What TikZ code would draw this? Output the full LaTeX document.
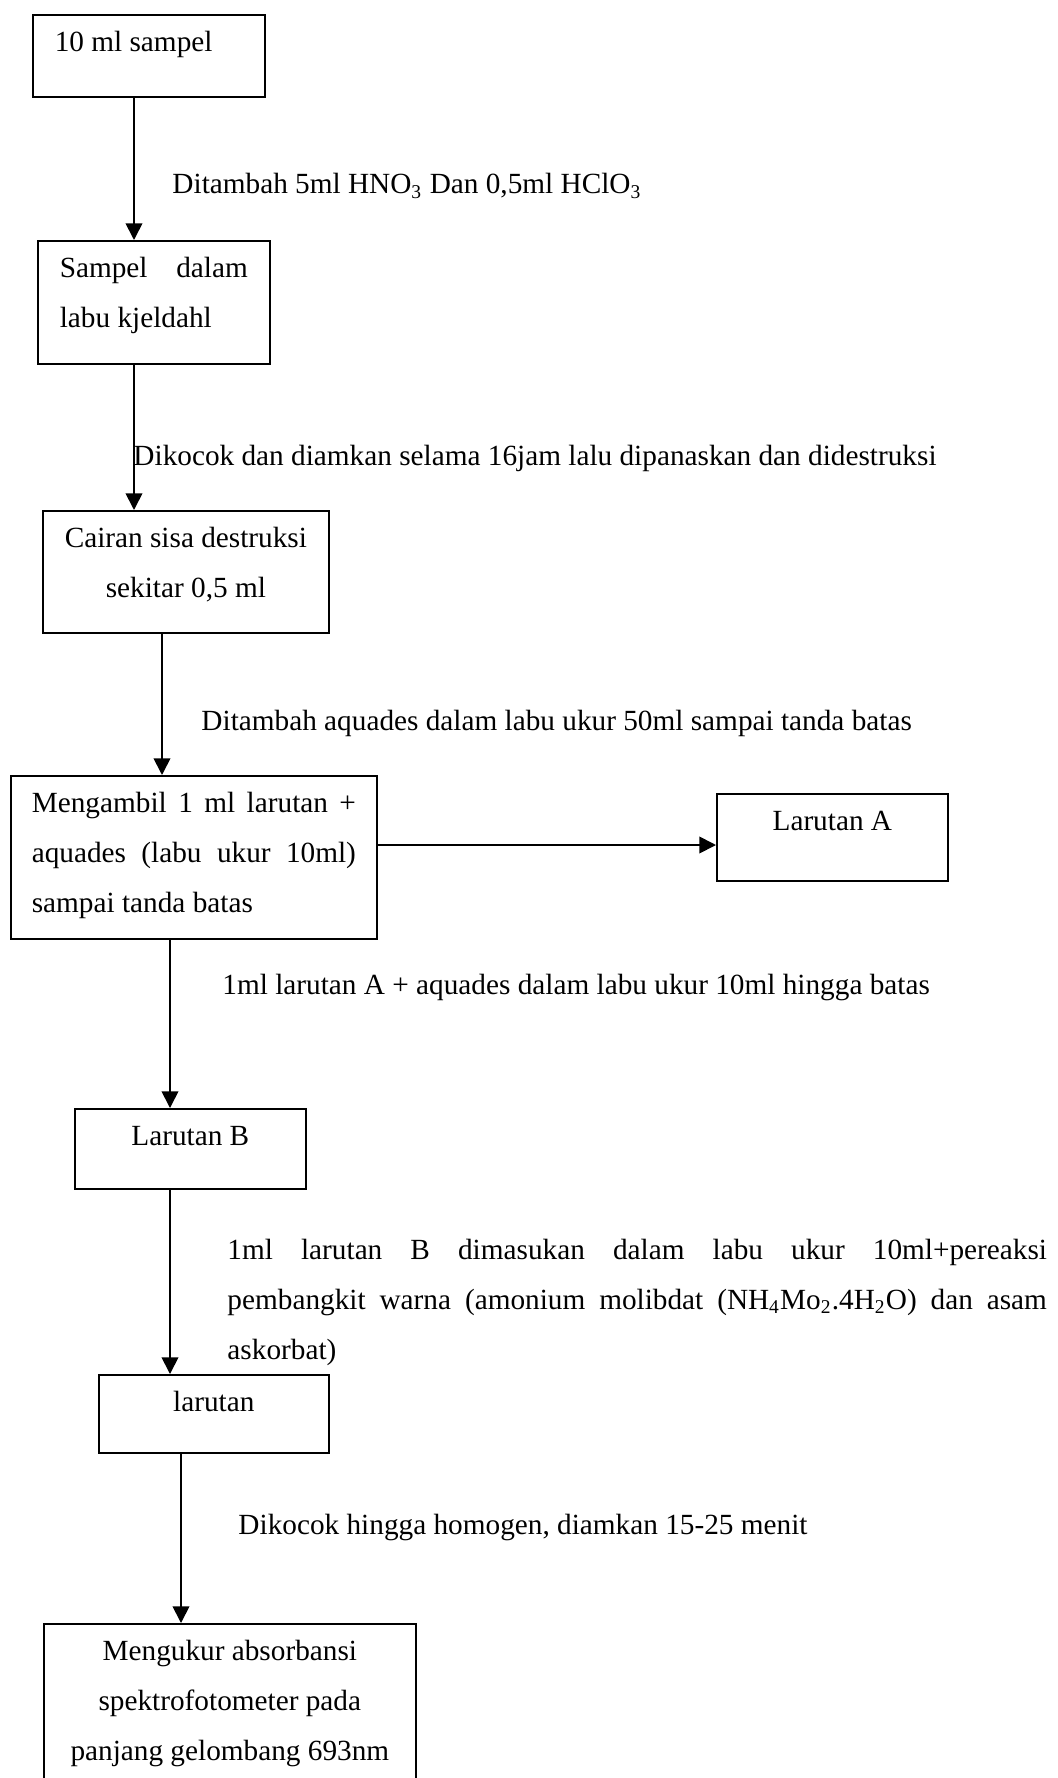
\documentclass[tikz,border=0pt]{standalone}
\usepackage{fontspec}
\setmainfont{Liberation Serif}
\usetikzlibrary{arrows.meta}

\begin{document}
\begin{tikzpicture}[x=0.41pt, y=-0.41pt,
    every node/.style={font=\fontsize{12}{20.5}\selectfont},
    box/.style={draw, line width=0.7pt, anchor=north west, inner xsep=9pt, inner ysep=0pt, text height=15.2pt},
    note/.style={anchor=base west, inner sep=0pt},
    panah/.style={->, line width=0.7pt},
    >={Triangle[width=6.8pt,length=6.8pt]}]
  \useasboundingbox (0,0) rectangle (1058,1778);
  \clip (0,0) rectangle (1058,1778);

  % kotak-kotak
  \node[box, text width=77.1pt, align=flush left, text depth=18.4pt] (sampel) at (32,14) {10 ml sampel};
  \node[box, text width=77.1pt, align=justify, text depth=35.2pt] (labu) at (37,240) {Sampel dalam\linebreak labu kjeldahl};
  \node[box, inner xsep=5pt, text width=107.3pt, align=flush center, text depth=34.8pt] (sisa) at (42,510) {Cairan sisa destruksi\\ sekitar 0,5 ml};
  \node[box, inner xsep=8.6pt, text width=132.9pt, align=justify, text depth=51.6pt] (ambil) at (10,775) {Mengambil 1 ml larutan +\linebreak aquades (labu ukur 10ml)\linebreak sampai tanda batas};
  \node[box, text width=76.7pt, align=flush center, text depth=20.5pt] (larA) at (716,793) {Larutan A};
  \node[box, text width=76.7pt, align=flush center, text depth=17.6pt] (larB) at (74,1108) {Larutan B};
  \node[box, text width=76.3pt, align=flush center, text depth=16.8pt] (lar) at (98,1374) {larutan};
  \node[box, text width=134.5pt, align=flush center, text depth=60pt] (ukur) at (43,1623) {Mengukur absorbansi\\ spektrofotometer pada\\ panjang gelombang 693nm};

  % keterangan
  \node[note] (tambah) at (172,194) {Ditambah 5ml HNO\textsubscript{3} Dan 0,5ml HClO\textsubscript{3}};
  \node[note] (kocok) at (133,466) {Dikocok dan diamkan selama 16jam lalu dipanaskan dan didestruksi};
  \node[note] (aquades) at (201,730) {Ditambah aquades dalam labu ukur 50ml sampai tanda batas};
  \node[note] (encer) at (222,994) {1ml larutan A + aquades dalam labu ukur 10ml hingga batas};
  \node[note, text width=336pt, align=justify] (pereaksi) at (227,1259) {1ml larutan B dimasukan dalam labu ukur 10ml+pereaksi\linebreak pembangkit warna (amonium molibdat (NH\textsubscript{4}Mo\textsubscript{2}.4H\textsubscript{2}O) dan asam\linebreak askorbat)};
  \node[note] (homogen) at (238,1534) {Dikocok hingga homogen, diamkan 15-25 menit};

  % panah
  \draw[panah] (sampel.south -| 134,0) -- (labu.north -| 134,0);
  \draw[panah] (labu.south -| 134,0) -- (sisa.north -| 134,0);
  \draw[panah] (sisa.south -| 162,0) -- (ambil.north -| 162,0);
  \draw[panah] (ambil.east |- 0,845) -- (larA.west |- 0,845);
  \draw[panah] (ambil.south -| 170,0) -- (larB.north -| 170,0);
  \draw[panah] (larB.south -| 170,0) -- (lar.north -| 170,0);
  \draw[panah] (lar.south -| 181,0) -- (ukur.north -| 181,0);
\end{tikzpicture}
\end{document}
